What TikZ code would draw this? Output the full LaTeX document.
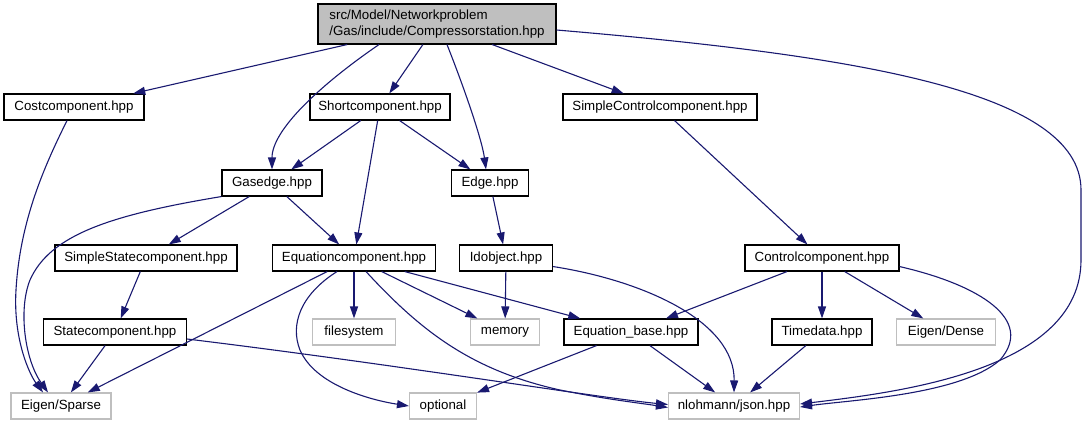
\documentclass[tikz,border=0pt]{standalone}
\usepackage{fontspec}
\setmainfont{Liberation Sans}
\usetikzlibrary{arrows.meta, calc}
\definecolor{edgeblue}{HTML}{191970}
\definecolor{extgray}{HTML}{BFBFBF}

\begin{document}
\begin{tikzpicture}[
      x=1pt, y=-1pt,
      box/.style={rectangle, draw=black, fill=white, line width=1.1pt,
                  minimum height=26pt, inner sep=0pt, font=\fontsize{13.3}{16}\selectfont},
      ext/.style={box, draw=extgray},
      arr/.style={-{Triangle[length=12pt,width=8pt]}, line width=1.1pt, edgeblue}
    ]
      \useasboundingbox (0,0) rectangle (1089,425);
      % files
      \node[box, fill=extgray, minimum width=238pt, minimum height=40pt, align=left] (root) at (437,24)
        {src/Model/Networkproblem\\/Gas/include/Compressorstation.hpp};
      \node[box, minimum width=140pt] (cost) at (74,107) {Costcomponent.hpp};
      \node[box, minimum width=140pt] (short) at (380,107) {Shortcomponent.hpp};
      \node[box, minimum width=194pt] (sctrl) at (660,107) {SimpleControlcomponent.hpp};
      \node[box, minimum width=100pt] (gasedge) at (272,183) {Gasedge.hpp};
      \node[box, minimum width=77pt] (edge) at (490,183) {Edge.hpp};
      \node[box, minimum width=182pt] (sstate) at (146,258) {SimpleStatecomponent.hpp};
      \node[box, minimum width=163pt] (eqcomp) at (354,258) {Equationcomponent.hpp};
      \node[box, minimum width=93pt] (idobj) at (506,258) {Idobject.hpp};
      \node[box, minimum width=154pt] (ctrl) at (822,258) {Controlcomponent.hpp};
      \node[box, minimum width=143pt] (state) at (115,332) {Statecomponent.hpp};
      \node[ext, minimum width=83pt] (fsys) at (354,332) {filesystem};
      \node[ext, minimum width=69pt] (mem) at (505,332) {memory};
      \node[box, minimum width=134pt] (eqbase) at (631,332) {Equation\_base.hpp};
      \node[box, minimum width=100pt] (tdata) at (822,332) {Timedata.hpp};
      \node[ext, minimum width=99pt] (dense) at (946,332) {Eigen/Dense};
      \node[ext, minimum width=100pt] (sparse) at (61,406) {Eigen/Sparse};
      \node[ext, minimum width=67pt] (opt) at (443,406) {optional};
      \node[ext, minimum width=131pt] (json) at (734,406) {nlohmann/json.hpp};
      % includes
      \draw[arr] (root) -- (cost);
      \draw[arr] ([xshift=-58pt]root.south) .. controls (320,85) and (272,130) .. (gasedge.north);
      \draw[arr] (root) -- (short);
      \draw[arr] ([xshift=10pt]root.south) .. controls (465,90) and (482,140) .. ([xshift=-4pt]edge.north);
      \draw[arr] (root) -- (sctrl);
      \draw[arr] ([yshift=-6pt]root.east) .. controls (850,55) and (1081,90) .. (1081,190)
        -- (1081,260) .. controls (1081,370) and (900,392) .. ([yshift=2pt]json.east);
      \draw[arr] ([xshift=-7pt]cost.south) .. controls (45,165) and (20,220) .. (16,290)
        .. controls (13,340) and (30,375) .. ([xshift=-18pt]sparse.north);
      \draw[arr] (short) -- (gasedge);
      \draw[arr] (short) -- (eqcomp);
      \draw[arr] (short) -- (edge);
      \draw[arr] (sctrl) -- (ctrl);
      \draw[arr] (gasedge.south west) .. controls (110,215) and (50,235) .. (30,280)
        .. controls (18,310) and (25,360) .. ([xshift=-13pt]sparse.north);
      \draw[arr] (gasedge) -- (sstate);
      \draw[arr] (gasedge) -- (eqcomp);
      \draw[arr] (edge) -- (idobj);
      \draw[arr] (sstate) -- (state);
      \draw[arr] (eqcomp) -- (sparse);
      \draw[arr] (eqcomp) -- (fsys);
      \draw[arr] (eqcomp) -- (mem);
      \draw[arr] ([xshift=-17pt]eqcomp.south) .. controls (300,295) and (290,325) .. (300,350)
        .. controls (315,385) and (370,400) .. (opt.west);
      \draw[arr] ([xshift=12pt]eqcomp.south) .. controls (420,330) and (470,370) .. (560,390)
        .. controls (610,400) and (640,403) .. ([yshift=-1.5pt]json.west);
      \draw[arr] (eqcomp) -- (eqbase);
      \draw[arr] (idobj) -- (mem);
      \draw[arr] ([yshift=5pt]idobj.south east) .. controls (640,280) and (735,320) .. (json.north);
      \draw[arr] (ctrl) -- (eqbase);
      \draw[arr] (ctrl) -- (tdata);
      \draw[arr] (ctrl) -- (dense);
      \draw[arr] ([yshift=5pt]ctrl.south east) .. controls (980,285) and (1035,320) .. (1000,360)
        .. controls (960,395) and (850,400) .. ([yshift=-1pt]json.east);
      \draw[arr] ([yshift=-7pt]state.east) .. controls (400,365) and (600,398) .. ([yshift=1.5pt]json.west);
      \draw[arr] (state) -- (sparse);
      \draw[arr] (eqbase) -- (opt);
      \draw[arr] (eqbase) -- (json);
      \draw[arr] (tdata) -- (json);
    \end{tikzpicture}
\end{document}
